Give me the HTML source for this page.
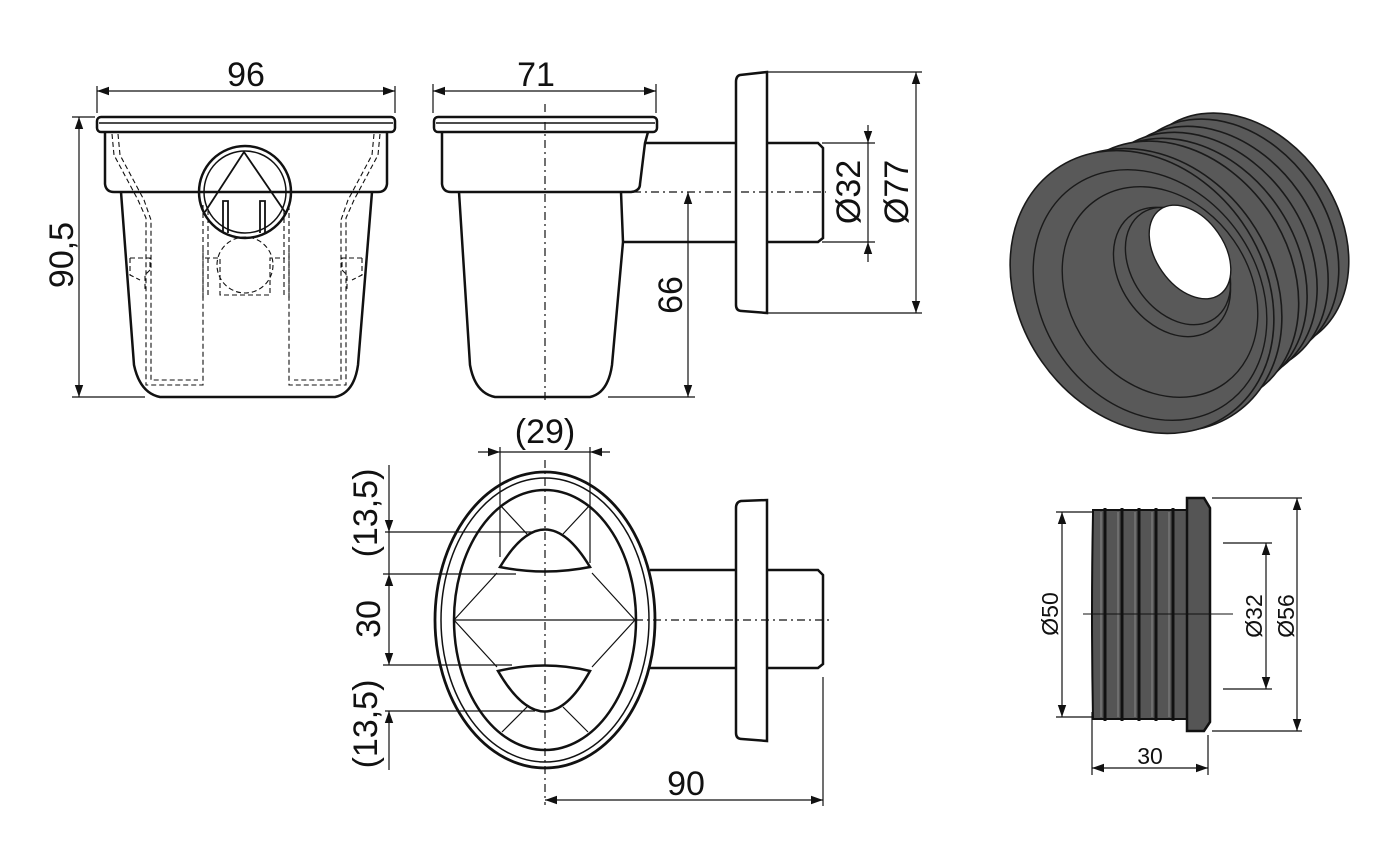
<!DOCTYPE html>
<html><head><meta charset="utf-8"><style>
html,body{margin:0;padding:0;background:#fff}
svg{display:block}
text{font-family:"Liberation Sans","DejaVu Sans",sans-serif;fill:#111}
</style></head><body>
<svg width="1400" height="850" viewBox="0 0 1400 850" xmlns="http://www.w3.org/2000/svg">
<defs>
<marker id="a" viewBox="0 0 10 10" refX="10" refY="5" markerWidth="12" markerHeight="12" markerUnits="userSpaceOnUse" orient="auto-start-reverse"><path d="M0,1.5 L10,5 L0,8.5 z" fill="#111"/></marker>
</defs>
<g fill="none" stroke="#111" stroke-width="1.2">
<rect x="97" y="117" width="298" height="15" rx="4" stroke-width="2.5"/>
<line x1="99" y1="123" x2="393" y2="123" stroke-width="1.5"/>
<path d="M105,132 L105,184 Q106,192 114,192 L378,192 Q386,192 387,184 L387,132" stroke-width="2.5"/>
<path d="M121,192 L134,365 Q140,393 160,397 L335,397 Q354,393 358,365 L372,192" stroke-width="2.5"/>
<g stroke-dasharray="5,3" stroke-width="1.1">
<path d="M112,134 L114,155 L138,200 L146,218 L146,385 L203,385 L203,250"/>
<path d="M118,134 L120,155 L144,200 L151,220 L151,380 L198,380"/>
<path d="M380,134 L378,155 L354,200 L346,218 L346,385 L289,385 L289,250"/>
<path d="M374,134 L372,155 L348,200 L341,220 L341,380 L294,380"/>
<path d="M130,258 L150,258 L150,270 L145,275 L145,290 M130,258 L130,275 L140,280"/>
<path d="M362,258 L342,258 L342,270 L347,275 L347,290 M362,258 L362,275 L352,280"/>
<path d="M205,258 L220,258 L220,295 L270,295 L270,258 L285,258"/>
<path d="M203,205 L203,300 M208,210 L208,295 M289,205 L289,300 M284,210 L284,295"/>
<circle cx="245" cy="265" r="28"/>
</g>
<circle cx="245" cy="192" r="46" stroke-width="2.5"/>
<circle cx="245" cy="192" r="41" stroke-width="1.5"/>
<path d="M205,212 L244,152 L285,212" stroke-width="1.8"/>
<path d="M223,233 L223,201 L228,201 L228,233 M260,233 L260,201 L265,201 L265,233" stroke-width="1.8"/>
<line x1="97" y1="86" x2="97" y2="113"/><line x1="395" y1="86" x2="395" y2="113"/>
<line x1="97" y1="91" x2="395" y2="91" marker-start="url(#a)" marker-end="url(#a)"/>
<line x1="72" y1="117" x2="95" y2="117"/><line x1="72" y1="397" x2="145" y2="397"/>
<line x1="79" y1="117" x2="79" y2="397" marker-start="url(#a)" marker-end="url(#a)"/>

<rect x="434" y="117" width="223" height="15" rx="4" stroke-width="2.5"/>
<line x1="436" y1="123" x2="655" y2="123" stroke-width="1.5"/>
<path d="M442,132 L442,184 Q443,192 451,192 L631,192 Q640,191 640,184 L645,143 L648,132" stroke-width="2.5"/>
<path d="M459,192 L470,365 Q475,393 495,397 L590,397 Q608,393 612,365 L623,242 L621,192" stroke-width="2.5"/>
<path d="M645,143 L736,143 M623,242 L736,242" stroke-width="2.5"/>
<path d="M740,75 Q736,76 736,82 L736,305 Q736,311 742,311 L767,313 L767,72 Z" stroke-width="2.5"/>
<path d="M767,143 L818,143 L823,148 L823,238 L818,242 L767,242" stroke-width="2.5"/>
<line x1="545" y1="104" x2="545" y2="402" stroke-dasharray="8,4,2,4"/>
<line x1="633" y1="192" x2="826" y2="192" stroke-dasharray="8,4,2,4"/>
<line x1="433" y1="84" x2="433" y2="113"/><line x1="656" y1="84" x2="656" y2="113"/>
<line x1="433" y1="91" x2="656" y2="91" marker-start="url(#a)" marker-end="url(#a)"/>
<line x1="688" y1="192" x2="688" y2="397" marker-start="url(#a)" marker-end="url(#a)"/>
<line x1="608" y1="397" x2="695" y2="397"/>
<line x1="822" y1="143" x2="875" y2="143"/><line x1="822" y1="242" x2="875" y2="242"/>
<line x1="868" y1="125" x2="868" y2="143" marker-end="url(#a)"/>
<line x1="868" y1="262" x2="868" y2="242" marker-end="url(#a)"/>
<line x1="868" y1="143" x2="868" y2="242"/>
<line x1="768" y1="72" x2="922" y2="72"/><line x1="768" y1="313" x2="922" y2="313"/>
<line x1="916" y1="72" x2="916" y2="313" marker-start="url(#a)" marker-end="url(#a)"/>

<path d="M650,570 L737,570 M650,668 L737,668" stroke-width="2.5"/>
<ellipse cx="545" cy="620" rx="110" ry="148" stroke-width="2.8" fill="#fff"/>
<ellipse cx="545" cy="620" rx="104" ry="142" stroke-width="1.5"/>
<ellipse cx="545" cy="620" rx="91" ry="130" stroke-width="2.5"/>
<path d="M500,567 Q545,492 590,567 Q545,576 500,567 Z" stroke-width="2.5" fill="#fff"/>
<path d="M498,671 Q545,660 590,671 Q545,752 498,671 Z" stroke-width="2.5" fill="#fff"/>
<path d="M454,620 L635,620 M454,620 L497,573 M454,620 L497,667 M635,620 L592,573 M635,620 L592,667 M500,505 L527,534 M590,505 L563,534 M502,732 L527,707 M588,732 L563,707"/>
<line x1="545" y1="460" x2="545" y2="805" stroke-dasharray="8,4,2,4"/>
<line x1="635" y1="620" x2="830" y2="620" stroke-dasharray="8,4,2,4"/>
<path d="M741,501 Q736,502 736,508 L736,733 Q736,739 742,739 L767,741 L767,500 Z" stroke-width="2.5"/>
<path d="M767,570 L818,570 L823,575 L823,664 L818,668 L767,668" stroke-width="2.5"/>
<line x1="500" y1="447" x2="500" y2="557"/><line x1="590" y1="447" x2="590" y2="563"/>
<line x1="500" y1="452" x2="590" y2="452"/>
<line x1="478" y1="452" x2="500" y2="452" marker-end="url(#a)"/>
<line x1="610" y1="452" x2="590" y2="452" marker-end="url(#a)"/>
<line x1="385" y1="532" x2="533" y2="532"/><line x1="383" y1="574" x2="516" y2="574"/>
<line x1="383" y1="665" x2="512" y2="665"/><line x1="385" y1="711" x2="535" y2="711"/>
<line x1="389" y1="465" x2="389" y2="532" marker-end="url(#a)"/>
<line x1="389" y1="574" x2="389" y2="665" marker-start="url(#a)" marker-end="url(#a)"/>
<line x1="389" y1="770" x2="389" y2="711" marker-end="url(#a)"/>
<line x1="389" y1="532" x2="389" y2="574"/>
<line x1="823" y1="677" x2="823" y2="806"/>
<line x1="545" y1="800" x2="823" y2="800" marker-start="url(#a)" marker-end="url(#a)"/>

<path d="M1093,514 Q1091,612 1093,719 L1187,719 L1187,510 L1093,510 Z" fill="#555" stroke="#111" stroke-width="2"/>
<g stroke="#111" stroke-width="3">
<path d="M1105,508 L1105,721 M1122,508 L1122,721 M1139,508 L1139,721 M1156,508 L1156,721 M1173,508 L1173,721"/>
</g>
<g stroke="#888" stroke-width="1">
<path d="M1101,512 L1101,717 M1118,512 L1118,717 M1135,512 L1135,717 M1152,512 L1152,717 M1169,512 L1169,717"/>
</g>
<path d="M1187,498 L1204,498 L1210,508 L1210,722 L1204,731 L1187,731 Z" fill="#555" stroke="#111" stroke-width="2.5"/>
<line x1="1083" y1="614" x2="1233" y2="614" stroke-width="1"/>
<line x1="1056" y1="512" x2="1093" y2="512"/><line x1="1056" y1="717" x2="1093" y2="717"/>
<line x1="1062" y1="512" x2="1062" y2="717" marker-start="url(#a)" marker-end="url(#a)"/>
<line x1="1223" y1="543" x2="1272" y2="543"/><line x1="1223" y1="689" x2="1272" y2="689"/>
<line x1="1266" y1="543" x2="1266" y2="689" marker-start="url(#a)" marker-end="url(#a)"/>
<line x1="1212" y1="498" x2="1302" y2="498"/><line x1="1212" y1="731" x2="1302" y2="731"/>
<line x1="1297" y1="498" x2="1297" y2="731" marker-start="url(#a)" marker-end="url(#a)"/>
<line x1="1092" y1="712" x2="1092" y2="775"/><line x1="1208" y1="735" x2="1208" y2="775"/>
<line x1="1092" y1="768" x2="1208" y2="768" marker-start="url(#a)" marker-end="url(#a)"/>

<g fill="#595959" stroke="#1a1a1a" stroke-width="1.6">
<ellipse cx="1240" cy="232" rx="98" ry="128" transform="rotate(-35 1240 232)"/>
<ellipse cx="1228" cy="240" rx="100" ry="130" transform="rotate(-35 1228 240)"/>
<ellipse cx="1215" cy="250" rx="102" ry="133" transform="rotate(-35 1215 250)"/>
<ellipse cx="1202" cy="258" rx="104" ry="135" transform="rotate(-35 1202 258)"/>
<ellipse cx="1190" cy="266" rx="106" ry="137" transform="rotate(-35 1190 266)"/>
<ellipse cx="1176" cy="274" rx="112" ry="142" transform="rotate(-35 1176 274)"/>
<ellipse cx="1150" cy="290" rx="122" ry="150" transform="rotate(-35 1150 290)"/>
<ellipse cx="1142" cy="292" rx="122" ry="150" transform="rotate(-35 1142 292)"/>
</g>
<g fill="none" stroke="#1a1a1a" stroke-width="1.4">
<ellipse cx="1150" cy="295" rx="108" ry="133" transform="rotate(-35 1150 295)"/>
<ellipse cx="1160" cy="292" rx="90" ry="112" transform="rotate(-35 1160 292)"/>
<ellipse cx="1172" cy="272" rx="52" ry="70" transform="rotate(-35 1172 272)"/>
<ellipse cx="1178" cy="266" rx="46" ry="64" transform="rotate(-35 1178 266)"/>
</g>
<ellipse cx="1190" cy="252" rx="34" ry="52" transform="rotate(-35 1190 252)" fill="#fff" stroke="#1a1a1a" stroke-width="1.4"/>
</g>

<g font-size="34">
<text x="246" y="86" text-anchor="middle">96</text>
<text x="536" y="86" text-anchor="middle">71</text>
<text transform="translate(73,255) rotate(-90)" text-anchor="middle">90,5</text>
<text transform="translate(682,295) rotate(-90)" text-anchor="middle">66</text>
<text transform="translate(860,192) rotate(-90)" text-anchor="middle">Ø32</text>
<text transform="translate(908,192) rotate(-90)" text-anchor="middle">Ø77</text>
<text x="545" y="443" text-anchor="middle">(29)</text>
<text transform="translate(377,513) rotate(-90)" text-anchor="middle">(13,5)</text>
<text transform="translate(380,619) rotate(-90)" text-anchor="middle">30</text>
<text transform="translate(377,724) rotate(-90)" text-anchor="middle">(13,5)</text>
<text x="686" y="795" text-anchor="middle">90</text>
</g>
<g font-size="23">
<text transform="translate(1058,614) rotate(-90)" text-anchor="middle">Ø50</text>
<text transform="translate(1262,616) rotate(-90)" text-anchor="middle">Ø32</text>
<text transform="translate(1294,616) rotate(-90)" text-anchor="middle">Ø56</text>
<text x="1150" y="764" text-anchor="middle">30</text>
</g>
</svg>
</body></html>
